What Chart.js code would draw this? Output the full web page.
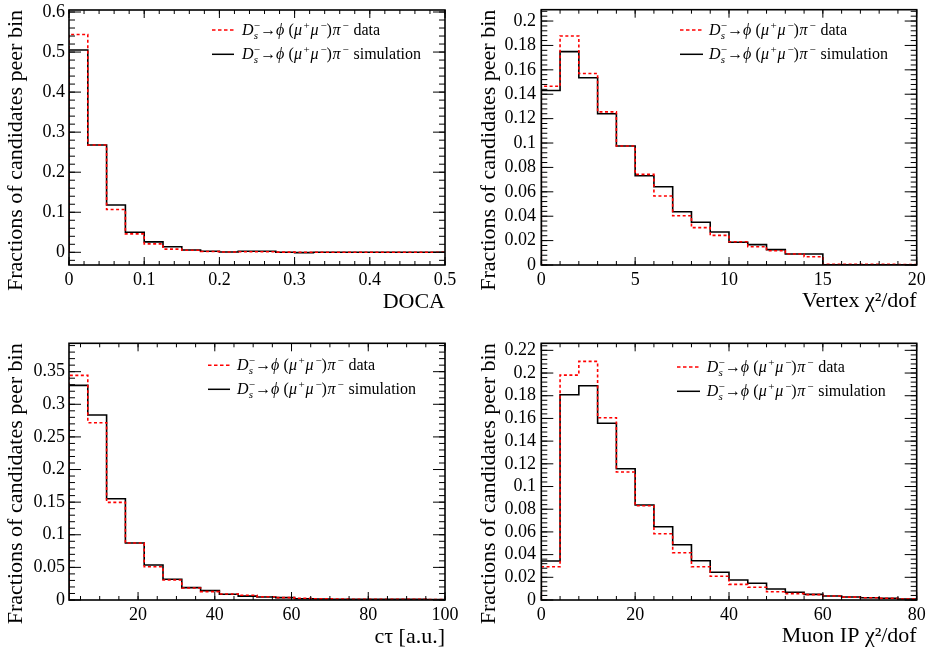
<!DOCTYPE html>
<html><head><meta charset="utf-8">
<script src="https://cdn.jsdelivr.net/npm/chart.js@4.4.1/dist/chart.umd.min.js"></script>
<style>
html,body{margin:0;padding:0;background:#fff;}
#wrap{position:relative;width:928px;height:652px;overflow:hidden;}
canvas{position:absolute;}
</style></head><body>
<div id="wrap">
<canvas id="c1" width="464" height="326" style="left:0;top:0"></canvas>
<canvas id="c2" width="464" height="326" style="left:464px;top:0"></canvas>
<canvas id="c3" width="464" height="326" style="left:0;top:326px"></canvas>
<canvas id="c4" width="464" height="326" style="left:464px;top:326px"></canvas>
</div>
<script>
// ---------------- data (fractions of candidates per bin, 20 bins each) ----------------
const docaData = [0.544, 0.268, 0.107, 0.046, 0.021, 0.008, 0.005, 0.002, 0.0008, 0.0012, 0.0012, 0.0004, 0.0002, 0.0002, 0.0001, 0.0001, 0, 0, 0, 0];
const docaSim  = [0.505, 0.268, 0.118, 0.050, 0.026, 0.014, 0.0058, 0.0025, 0.0007, 0.0025, 0.0025, 0.0003, -0.0008, 0.0002, 0.0001, 0.0001, 0, 0, 0, 0];
const docaXTicks = [0, 0.1, 0.2, 0.3, 0.4, 0.5];
const docaYTicks = [0, 0.1, 0.2, 0.3, 0.4, 0.5, 0.6];

const vtxData = [0.1465, 0.1877, 0.157, 0.1255, 0.0975, 0.0743, 0.0566, 0.0404, 0.0306, 0.0243, 0.0191, 0.015, 0.0117, 0.009, 0.0068, 0.0006, 0.0006, 0.0005, 0.0005, 0.0004];
const vtxSim  = [0.143, 0.1749, 0.1535, 0.124, 0.0975, 0.0732, 0.0642, 0.0437, 0.035, 0.027, 0.0186, 0.0167, 0.0126, 0.009, 0.009, 0.0002, 0.0002, 0.0002, 0.0002, 0.0002];
const vtxXTicks = [0, 5, 10, 15, 20];
const vtxYTicks = [0, 0.02, 0.04, 0.06, 0.08, 0.1, 0.12, 0.14, 0.16, 0.18, 0.2];

const ctauData = [0.3444, 0.2718, 0.1497, 0.0874, 0.051, 0.0307, 0.0184, 0.0128, 0.0092, 0.0072, 0.005, 0.0036, 0.0026, 0.0018, 0.0015, 0.0012, 0.0012, 0.0012, 0.0012, 0.0006];
const ctauSim  = [0.329, 0.2836, 0.1553, 0.0874, 0.0536, 0.0317, 0.019, 0.0143, 0.0087, 0.006, 0.0046, 0.0036, 0.002, 0.0015, 0.0012, 0.001, 0.001, 0.001, 0.001, 0.0005];
const ctauXTicks = [20, 40, 60, 80, 100];
const ctauYTicks = [0, 0.05, 0.1, 0.15, 0.2, 0.25, 0.3, 0.35];

const ipData = [0.0293, 0.1982, 0.2103, 0.1606, 0.1128, 0.0831, 0.0584, 0.0417, 0.0293, 0.0209, 0.0138, 0.0112, 0.0073, 0.0056, 0.0047, 0.0035, 0.0025, 0.002, 0.0015, 0.0009];
const ipSim  = [0.0344, 0.1809, 0.1888, 0.1557, 0.1157, 0.0837, 0.0646, 0.0487, 0.0346, 0.0244, 0.0176, 0.0147, 0.0097, 0.0068, 0.005, 0.0035, 0.0026, 0.002, 0.0015, 0.0009];
const ipXTicks = [0, 20, 40, 60, 80];
const ipYTicks = [0, 0.02, 0.04, 0.06, 0.08, 0.1, 0.12, 0.14, 0.16, 0.18, 0.2, 0.22];

const legendData = 'data';
const legendSim = 'simulation';
const yTitle = 'Fractions of candidates peer bin';
// ---------------------------------------------------------------------------------------

const FONT = 'Liberation Serif';
const W = 464, H = 326;
Chart.defaults.font.family = FONT;
Chart.defaults.font.size = 18;
Chart.defaults.color = '#000';

function histPoints(values, low, width) {
  const pts = [{x: low, y: 0}];
  values.forEach((v, i) => {
    pts.push({x: low + i * width, y: v});
    pts.push({x: low + (i + 1) * width, y: v});
  });
  pts.push({x: low + values.length * width, y: 0});
  return pts;
}

// glyph layout of the TLatex-like legend label: [text, italic, size, dy, x offset]
const decayGlyphs = [
  ['D', true, 16, 0, 0],
  ['s', true, 11, 3.5, 11.8],
  ['\u2212', false, 11, -6, 11.8],
  ['\u2192', false, 16, 0, 18.3],
  ['\u03d5', true, 16, 0, 34],
  ['(', false, 16, 0, 46.5],
  ['\u03bc', true, 16, 0, 52],
  ['+', false, 11, -6, 61.5],
  ['\u03bc', true, 16, 0, 68.5],
  ['\u2212', false, 11, -6, 78.5],
  [')', false, 16, 0, 84.5],
  ['\u03c0', true, 16, 0, 90.5],
  ['\u2212', false, 11, -6, 100.5]
];
const tailOffset = 111.5;

function drawDecay(ctx, x, by, tail) {
  ctx.fillStyle = '#000';
  ctx.textBaseline = 'alphabetic';
  ctx.textAlign = 'left';
  decayGlyphs.forEach(([t, it, sz, dy, dx]) => {
    ctx.font = (it ? 'italic ' : '') + sz + 'px "' + FONT + '"';
    ctx.fillText(t, x + dx, by + dy);
  });
  ctx.font = '16px "' + FONT + '"';
  ctx.fillText(tail, x + tailOffset, by);
}

const rootFrame = {
  id: 'rootFrame',
  afterDatasetsDraw(chart) {
    const c = chart.options.plugins.rootFrame;
    const {ctx, chartArea: a} = chart;
    const x = chart.scales.x, y = chart.scales.y;
    ctx.save();
    ctx.strokeStyle = '#000';
    ctx.lineWidth = 1;
    ctx.beginPath();
    const tx = (v, len) => {
      const p = x.getPixelForValue(v);
      ctx.moveTo(p, a.bottom); ctx.lineTo(p, a.bottom - len);
      ctx.moveTo(p, a.top); ctx.lineTo(p, a.top + len);
    };
    const ty = (v, len) => {
      const p = y.getPixelForValue(v);
      ctx.moveTo(a.left, p); ctx.lineTo(a.left + len, p);
      ctx.moveTo(a.right, p); ctx.lineTo(a.right - len, p);
    };
    for (let k = Math.ceil(x.min / c.xMinor - 1e-6); k * c.xMinor <= x.max + 1e-9; k++) tx(k * c.xMinor, 4);
    x.ticks.forEach(t => tx(t.value, 8));
    for (let k = Math.ceil(y.min / c.yMinor - 1e-6); k * c.yMinor <= y.max + 1e-9; k++) ty(k * c.yMinor, 6);
    y.ticks.forEach(t => ty(t.value, 12));
    ctx.stroke();
    ctx.lineWidth = 1.6;
    ctx.strokeRect(a.left, a.top, a.right - a.left, a.bottom - a.top);

    // legend
    const L = c.legend;
    ctx.lineWidth = 1.5;
    ctx.strokeStyle = '#ff0000';
    ctx.setLineDash([3.5, 2.5]);
    ctx.beginPath(); ctx.moveTo(L.x, L.y1); ctx.lineTo(L.x + L.len, L.y1); ctx.stroke();
    ctx.setLineDash([]);
    ctx.strokeStyle = '#000';
    ctx.beginPath(); ctx.moveTo(L.x, L.y2); ctx.lineTo(L.x + L.len, L.y2); ctx.stroke();
    drawDecay(ctx, L.tx, L.y1 + 5, legendData);
    drawDecay(ctx, L.tx, L.y2 + 5, legendSim);
    ctx.restore();
  }
};

function makeChart(id, p) {
  const tickFont = {family: FONT, size: 18};
  const titleFont = {family: FONT, size: 22};
  return new Chart(document.getElementById(id), {
    type: 'line',
    data: {
      datasets: [
        {data: histPoints(p.data, p.low, p.width), borderColor: '#ff0000', borderWidth: 1.6, borderDash: [3, 2.5], pointRadius: 0, tension: 0, fill: false},
        {data: histPoints(p.sim, p.low, p.width), borderColor: '#000000', borderWidth: 1.6, pointRadius: 0, tension: 0, fill: false}
      ]
    },
    options: {
      responsive: false, animation: false, devicePixelRatio: 1,
      layout: {padding: {left: 0, top: p.area.top, right: W - p.area.right, bottom: 0}},
      plugins: {legend: {display: false}, tooltip: {enabled: false}, rootFrame: {xMinor: p.xMinor, yMinor: p.yMinor, legend: p.legend}},
      scales: {
        x: {
          type: 'linear', min: p.xmin, max: p.xmax,
          afterBuildTicks: s => { s.ticks = p.xTicks.map(v => ({value: v})); },
          afterFit: s => { s.height = H - p.area.bottom; s.paddingLeft = 0; s.paddingRight = 0; },
          grid: {display: false, drawTicks: false, tickLength: 0},
          border: {display: false},
          ticks: {font: tickFont, color: '#000', padding: p.xPad, maxRotation: 0, autoSkip: false, callback: v => String(v)},
          title: {display: true, text: p.xTitle, align: 'end', font: titleFont, color: '#000', padding: {top: 0, bottom: p.xTitlePad}}
        },
        y: {
          type: 'linear', min: p.ymin, max: p.ymax,
          afterBuildTicks: s => { s.ticks = p.yTicks.map(v => ({value: v})); },
          afterFit: s => { s.width = p.area.left; s.paddingTop = 0; s.paddingBottom = 0; },
          grid: {display: false, drawTicks: false, tickLength: 0},
          border: {display: false},
          ticks: {font: tickFont, color: '#000', padding: p.yPad, autoSkip: false, callback: v => String(v)},
          title: {display: true, text: yTitle, align: 'end', font: titleFont, color: '#000', padding: {top: p.yTitlePad, bottom: 0}}
        }
      }
    },
    plugins: [rootFrame]
  });
}

makeChart('c1', {
  data: docaData, sim: docaSim, low: 0, width: 0.025,
  xmin: 0, xmax: 0.5, ymin: -0.0317, ymax: 0.605,
  xTicks: docaXTicks, yTicks: docaYTicks, xMinor: 0.02, yMinor: 0.02,
  area: {left: 69, right: 445, top: 10, bottom: 265},
  xTitle: 'DOCA', xTitlePad: 10.3, yTitlePad: 3.5, xPad: 4, yPad: 4,
  legend: {x: 212, len: 22, tx: 242, y1: 30, y2: 54.3}
});
makeChart('c2', {
  data: vtxData, sim: vtxSim, low: 0, width: 1,
  xmin: 0, xmax: 20, ymin: 0, ymax: 0.2093,
  xTicks: vtxXTicks, yTicks: vtxYTicks, xMinor: 1, yMinor: 0.004,
  area: {left: 77.3, right: 452.7, top: 9.7, bottom: 265},
  xTitle: 'Vertex \u03c7\u00b2/dof', xTitlePad: 11.3, yTitlePad: 11.8, xPad: 4, yPad: 5.3,
  legend: {x: 216, len: 23, tx: 245, y1: 30, y2: 54.3}
});
makeChart('c3', {
  data: ctauData, sim: ctauSim, low: 2, width: 4.9,
  xmin: 2, xmax: 100, ymin: 0, ymax: 0.3935,
  xTicks: ctauXTicks, yTicks: ctauYTicks, xMinor: 5, yMinor: 0.01,
  area: {left: 69, right: 445, top: 17.3, bottom: 274},
  xTitle: 'c\u03c4 [a.u.]', xTitlePad: 1.3, yTitlePad: 3.5, xPad: 4, yPad: 4,
  legend: {x: 208, len: 22, tx: 237, y1: 39.3, y2: 63.3}
});
makeChart('c4', {
  data: ipData, sim: ipSim, low: 0, width: 4,
  xmin: 0, xmax: 80, ymin: 0, ymax: 0.2262,
  xTicks: ipXTicks, yTicks: ipYTicks, xMinor: 4, yMinor: 0.004,
  area: {left: 77.3, right: 452.7, top: 17.3, bottom: 274},
  xTitle: 'Muon IP \u03c7\u00b2/dof', xTitlePad: 2.8, yTitlePad: 11.8, xPad: 4, yPad: 5.3,
  legend: {x: 213, len: 23, tx: 242.7, y1: 41, y2: 65.3}
});
</script>
</body></html>
